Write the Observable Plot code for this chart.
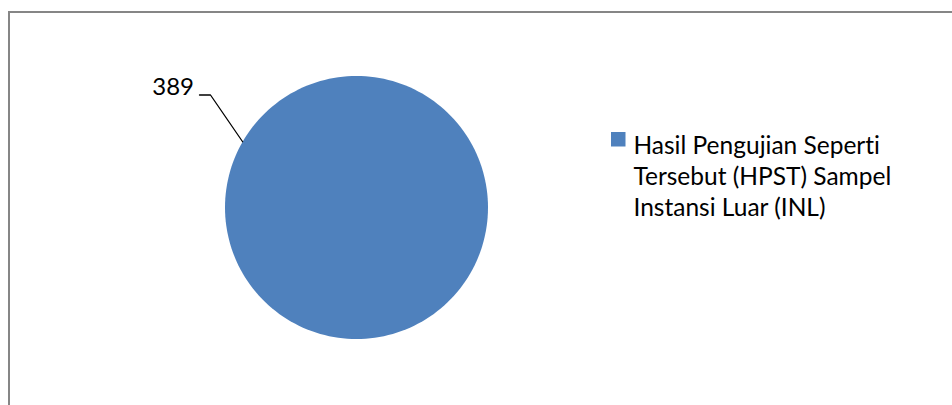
<!DOCTYPE html>
<html>
<head>
<meta charset="utf-8">
<script src="https://cdn.jsdelivr.net/npm/d3@7"></script>
<script src="https://cdn.jsdelivr.net/npm/@observablehq/plot@0.6"></script>
<style>
  html, body { margin: 0; padding: 0; background: #fff; overflow: hidden; }
  #wrap { position: relative; width: 952px; height: 405px; overflow: hidden; }
  #border { position: absolute; left: 8px; top: 11px; width: 1100px; height: 600px; border: 2px solid #868686; box-sizing: border-box; }
  #chart { position: absolute; left: 0; top: 0; }
  svg text { font-variant-ligatures: none; font-feature-settings: "liga" 0, "clig" 0; }
</style>
</head>
<body>
<div id="wrap"><div id="border"></div><div id="chart"></div></div>
<script>
// ---- data ----
const categories = ["Hasil Pengujian Seperti Tersebut (HPST) Sampel Instansi Luar (INL)"];
const values = [389];
const legendLines = ["Hasil Pengujian Seperti", "Tersebut (HPST) Sampel", "Instansi Luar (INL)"];
const colors = ["#4F81BD"];

// ---- layout ----
const W = 952, H = 405;
const cx = 356, cy = 207, R = 131.5;
const labelAngle = -60 * Math.PI / 180; // where the leader line meets the pie
const font = "Lato, Calibri, 'Open Sans', sans-serif";
const fs = 24;
const lfs = 24.5;

const pie = d3.pie().sort(null)(values);
const slicePts = [];
pie.forEach((p, i) => {
  const n = 180;
  const full = (p.endAngle - p.startAngle) >= 2 * Math.PI - 1e-9;
  if (!full) slicePts.push({i, x: cx, y: cy});
  for (let k = 0; k <= n; k++) {
    const a = p.startAngle + (p.endAngle - p.startAngle) * k / n;
    slicePts.push({i, x: cx + R * Math.sin(a), y: cy - R * Math.cos(a)});
  }
});

const ax = cx + R * Math.sin(labelAngle), ay = cy - R * Math.cos(labelAngle);
const leader = [
  {x: ax, y: ay},
  {x: 210, y: 94.5},
  {x: 199, y: 94.5}
];
const labels = [{x: 193.5, y: 94.5 - 0.71 * fs, text: String(values[0])}];
const legend = categories.map((c, i) => ({i, x: 611, y: 132, text: legendLines.join("\n")}));

const chart = Plot.plot({
  width: W, height: H,
  margin: 0,
  x: {domain: [0, W], range: [0, W], axis: null},
  y: {domain: [0, H], range: [0, H], axis: null},
  style: {background: "transparent", fontFamily: font},
  marks: [
    Plot.line(slicePts, {x: "x", y: "y", z: "i", fill: d => colors[d.i], stroke: "none"}),
    Plot.line(leader, {x: "x", y: "y", stroke: "#000", strokeWidth: 1.3}),
    Plot.text(labels, {x: "x", y: "y", text: "text", textAnchor: "end", lineAnchor: "top", fontSize: fs, fill: "#000", fontFamily: font}),
    Plot.rect(legend, {x1: "x", x2: d => d.x + 14.5, y1: "y", y2: d => d.y + 14.5, fill: d => colors[d.i]}),
    Plot.text(legend, {x: d => d.x + 22, y: d => 148.5 - 0.71 * lfs, text: "text", textAnchor: "start", lineAnchor: "top", lineHeight: 31 / lfs, fontSize: lfs, fill: "#000", fontFamily: font})
  ]
});
document.getElementById("chart").appendChild(chart);
</script>
</body>
</html>
